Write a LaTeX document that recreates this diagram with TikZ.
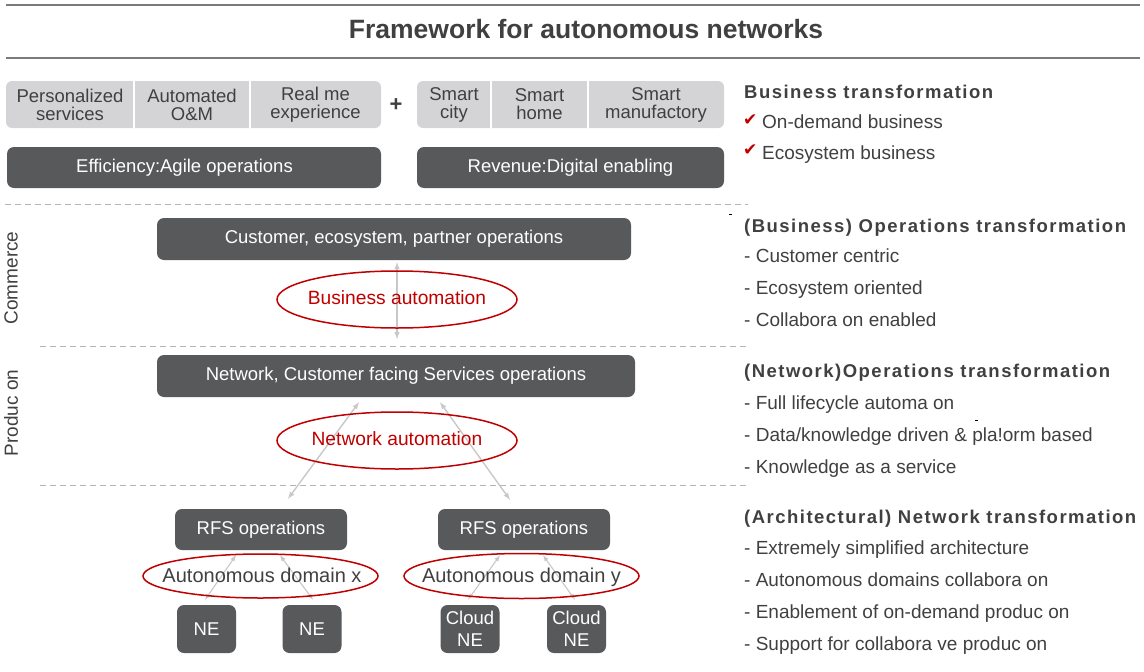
\documentclass[tikz,border=0pt]{standalone}
\usepackage{fontspec}
\setmainfont{Liberation Sans}
\newfontfamily\headfont[LetterSpace=8]{Liberation Sans}
\newfontfamily\symbfont{DejaVu Sans}
\usepackage{tikz}
\usetikzlibrary{arrows}
\usetikzlibrary{backgrounds}
\definecolor{boxgray}{HTML}{58595B}
\definecolor{cellgray}{HTML}{D4D4D6}
\definecolor{textgray}{HTML}{404040}
\definecolor{autored}{HTML}{C00000}
\definecolor{linkgray}{HTML}{C8C8C8}
\definecolor{sepgray}{HTML}{B4B4B4}
\definecolor{rulegray}{HTML}{7A7A7A}

\tikzset{
  darkbox/.style={fill=boxgray, rounded corners=7pt, text=white, inner sep=0pt, align=center, font=\fontsize{18.5}{22}\selectfont},
  cell/.style={inner sep=0pt, minimum height=47pt, align=center, text=textgray, font=\fontsize{18.5}{18}\selectfont},
  ringtext/.style={inner sep=0pt, text height=14pt, text depth=2pt, font=\fontsize{19.2}{22}\selectfont},
  ring/.style={draw=autored, line width=1.5pt},
  link/.style={latex-latex, draw=linkgray, line width=1.4pt},
  sublink/.style={latex-latex, draw=linkgray, line width=1.1pt},
  sepline/.style={draw=sepgray, line width=0.9pt, dash pattern=on 6pt off 4pt},
  headline/.style={anchor=west, inner sep=0pt, text height=15pt, text depth=2pt, text=textgray, font=\headfont\bfseries\fontsize{18.5}{22}\selectfont},
  item/.style={anchor=west, inner sep=0pt, text height=14pt, text depth=2pt, text=textgray, font=\fontsize{19}{22}\selectfont},
  tick/.style={anchor=west, inner sep=0pt, text=autored, font=\symbfont\fontsize{17}{18}\selectfont},
}

\begin{document}
\begin{tikzpicture}[x=1pt,y=-1pt]
\useasboundingbox (0,0) rectangle (1144,672);
% title
\draw[rulegray,line width=2.5pt] (6,5) -- (1140,5);
\draw[rulegray,line width=2.5pt] (6,58) -- (1140,58);
\node[text=textgray,font=\bfseries\fontsize{26.5}{30}\selectfont] (title) at (586,29) {Framework for autonomous networks};

% business layer
\fill[cellgray,rounded corners=6pt] (6,81) rectangle (381,128);
\fill[cellgray,rounded corners=6pt] (417,81) rectangle (724,128);
\node[cell,minimum width=128pt] (pers) at (70,104.5) {Personalized\\services};
\node[cell,minimum width=116pt] (oam) at (192,104.5) {Automated\\O\&M};
\node[cell,minimum width=131pt] (realme) at (315.5,104.5) {Real me\\experience};
\node[cell,minimum width=74pt] (city) at (454,104.5) {Smart\\city};
\node[cell,minimum width=97pt] (home) at (539.5,104.5) {Smart\\home};
\node[cell,minimum width=136pt] (manu) at (656,104.5) {Smart\\manufactory};
\foreach \c in {pers,oam,city,home}
  \draw[white,line width=2pt] (\c.north east) -- (\c.south east);
\node[text=textgray,font=\bfseries\fontsize{22}{22}\selectfont] (plus) at (396,105) {+};
\node[darkbox,minimum width=374pt,minimum height=41pt] (eff) at (194,167.5) {Efficiency:Agile operations\hspace*{19pt}};
\node[darkbox,minimum width=307pt,minimum height=41pt] (rev) at (570.5,167.5) {Revenue:Digital enabling};

\node[headline] (bthead) at (744,92) {Business transformation};
\node[tick] (chk1) at (743,120) {✔};
\node[item] (bt1) at (762,122) {On-demand business};
\node[tick] (chk2) at (743,150) {✔};
\node[item] (bt2) at (762,153) {Ecosystem business};

% layer separators
\draw[sepline] (5,204) -- (748,204);
\draw[sepline] (40,346) -- (748,346);
\draw[sepline] (40,485) -- (748,485);
\draw[black,line width=1pt] (729,214) -- (732,214);
\draw[black,line width=1pt] (975,420) -- (978,420);

\node[item,anchor=center,text height=,text depth=,rotate=90] (commerce) at (11,278) {Commerce};
\node[item,anchor=center,text height=,text depth=,rotate=90] (production) at (11,413) {Produc on};

% commerce
\node[darkbox,minimum width=474pt,minimum height=42pt] (cust) at (394,239) {Customer, ecosystem, partner operations};
\node[ringtext,text=autored] (bizauto) at (397,298) {Business automation};
\draw[ring] ([yshift=-1.5]bizauto.center) ellipse [x radius=120pt,y radius=28.5pt];

% production
\node[darkbox,minimum width=478pt,minimum height=42pt] (netops) at (396,376) {Network, Customer facing Services operations};
\node[ringtext,text=autored] (netauto) at (397,439) {Network automation};
\draw[ring] ([yshift=-1.5]netauto.center) ellipse [x radius=120pt,y radius=28.5pt];

% domains
\node[darkbox,minimum width=172pt,minimum height=41pt] (rfsx) at (261,529.5) {RFS operations};
\node[darkbox,minimum width=172pt,minimum height=41pt] (rfsy) at (524,529.5) {RFS operations};
\node[ringtext,text=textgray,font=\fontsize{20}{22}\selectfont] (domx) at (262,576) {Autonomous domain x};
\draw[ring] ([xshift=-1.5]domx.center) ellipse [x radius=117.5pt,y radius=22pt];
\node[ringtext,text=textgray,font=\fontsize{20}{22}\selectfont] (domy) at (521.5,576) {Autonomous domain y};
\draw[ring] (domy.center) ellipse [x radius=117.5pt,y radius=22.5pt];
\node[darkbox,minimum width=59pt,minimum height=48pt] (nex1) at (206.5,629) {NE};
\node[darkbox,minimum width=59pt,minimum height=48pt] (nex2) at (312,629) {NE};
\node[darkbox,minimum width=59pt,minimum height=48pt] (ney1) at (470,629) {Cloud\\NE};
\node[darkbox,minimum width=59pt,minimum height=48pt] (ney2) at (576.5,629) {Cloud\\NE};

\begin{pgfonlayer}{background}
\draw[link] ([shift={(3,2)}]cust.south) -- ++(0,77);
\draw[link] ([shift={(-37,5)}]netops.south) -- ([shift={(27,-10)}]rfsx.north);
\draw[link] ([shift={(44,5)}]netops.south) -- ([shift={(-14,-9)}]rfsy.north);
\draw[sublink] ([shift={(-25,5)}]rfsx.south) -- ([shift={(-1.5,-5)}]nex1.north);
\draw[sublink] ([shift={(19,5)}]rfsx.south) -- ([shift={(1,-5)}]nex2.north);
\draw[sublink] ([shift={(-24,5)}]rfsy.south) -- ([shift={(-2,-5)}]ney1.north);
\draw[sublink] ([shift={(19,5)}]rfsy.south) -- ([shift={(-1.5,-5)}]ney2.north);
\end{pgfonlayer}

% transformations
\node[headline] (bohead) at (744,226) {(Business) Operations transformation};
\foreach \ty/\txt [count=\i] in {256/{- Customer centric},288/{- Ecosystem oriented},320/{- Collabora on enabled}}
  \node[item] (bo\i) at (744,\ty) {\txt};
\node[headline] (nohead) at (744,371) {(Network)Operations transformation};
\foreach \ty/\txt [count=\i] in {403/{- Full lifecycle automa on},435/{- Data/knowledge driven \& pla!orm based},467/{- Knowledge as a service}}
  \node[item] (no\i) at (744,\ty) {\txt};
\node[headline] (nthead) at (744,517) {(Architectural) Network transformation};
\foreach \ty/\txt [count=\i] in {548/{- Extremely simplified architecture},580/{- Autonomous domains collabora on},612/{- Enablement of on-demand produc on},644/{- Support for collabora ve produc on}}
  \node[item] (nt\i) at (744,\ty) {\txt};
\end{tikzpicture}
\end{document}
